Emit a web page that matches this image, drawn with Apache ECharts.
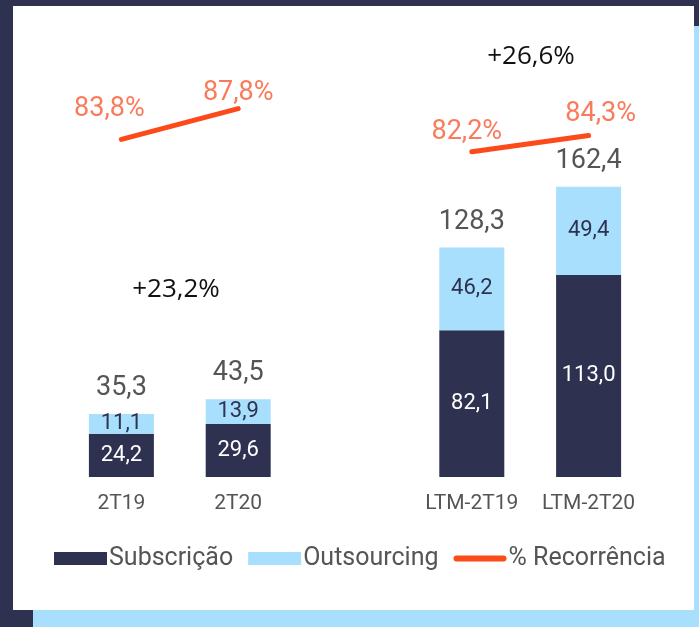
<!DOCTYPE html>
<html lang="pt">
<head>
<meta charset="UTF-8"/>
<style>
  html, body { margin: 0; padding: 0; background: #2e3150; }
  #main { width: 699px; height: 627px; }
</style>
</head>
<body>
<div id="main"></div>
<script src="https://cdn.jsdelivr.net/npm/echarts@6/dist/echarts.min.js"></script>
<script type="text/javascript">
    // dados
    var categorias = ['2T19', '2T20', '', 'LTM-2T19', 'LTM-2T20'];
    var subscricao = [24.2, 29.6, '-', 82.1, 113.0];
    var outsourcing = [11.1, 13.9, '-', 46.2, 49.4];
    var totais = [35.3, 43.5, '-', 128.3, 162.4];
    var recorrencia = [83.8, 87.8, '-', 82.2, 84.3];
    var crescimento = ['+23,2%', '+26,6%'];

    var navy = '#2e3150';
    var azul = '#a8dffc';
    var laranja = '#fc4a1a';
    var cinza = '#555555';
    var fonte = 'Roboto, sans-serif';

    function virgula(v, casas) {
        return Number(v).toFixed(casas).replace('.', ',');
    }

    // deslocamentos dos rótulos de % (só estilo)
    var offsets = [[-12, -17], [0, -2], null, [-5, -6], [12, -8]];
    var recRotulos = recorrencia.map(function (v, i) {
        if (v === '-') return '-';
        return { value: v, label: { offset: offsets[i] } };
    });

    var iconeLinha = 'path://M3,0 L50,0 A3,3 0 0 1 50,6 L3,6 A3,3 0 0 1 3,0 Z';

    var myChart = echarts.init(document.getElementById('main'));

    var options = {
        backgroundColor: navy,
        animation: false,
        textStyle: { fontFamily: fonte },
        graphic: [
            { type: 'rect', z: -10, shape: { x: 694, y: 26, width: 5, height: 601 }, style: { fill: azul } },
            { type: 'rect', z: -10, shape: { x: 33, y: 610, width: 666, height: 17 }, style: { fill: azul } },
            { type: 'rect', z: -9, shape: { x: 13, y: 6, width: 681, height: 604 }, style: { fill: '#ffffff' } },
            { type: 'text', z: 10, x: 176, y: 290, style: { text: crescimento[0], fill: '#111', font: '26px "Open Sans"', align: 'center', verticalAlign: 'middle' } },
            { type: 'text', z: 10, x: 531, y: 57, style: { text: crescimento[1], fill: '#111', font: '26px "Open Sans"', align: 'center', verticalAlign: 'middle' } }
        ],
        legend: {
            data: [
                { name: 'Subscrição', icon: 'rect' },
                { name: 'Outsourcing', icon: 'rect' },
                { name: '% Recorrência', icon: iconeLinha, itemStyle: { color: laranja } }
            ],
            left: 49,
            top: 541,
            itemWidth: 53,
            itemHeight: 13,
            itemGap: 15,
            textStyle: { fontSize: 25, color: cinza, fontFamily: fonte, padding: [0, 0, 0, -3] }
        },
        grid: { left: 63, right: 52, top: 30, bottom: 150 },
        xAxis: {
            type: 'category',
            data: categorias,
            axisLine: { show: false },
            axisTick: { show: false },
            axisLabel: { fontSize: 21, color: cinza, margin: 16, interval: 0 }
        },
        yAxis: [
            { type: 'value', min: 0, max: 250, show: false },
            { type: 'value', min: 40, max: 98, show: false }
        ],
        series: [
            {
                name: 'Total',
                type: 'bar',
                data: totais,
                barWidth: 65,
                barGap: '-100%',
                itemStyle: { color: 'rgba(0,0,0,0)' },
                z: 1,
                label: {
                    show: true, position: 'top', distance: 12,
                    fontSize: 27, color: cinza,
                    formatter: function (p) { return virgula(p.value, 1); }
                }
            },
            {
                name: 'Subscrição',
                type: 'bar',
                stack: 'receita',
                data: subscricao,
                barWidth: 65,
                itemStyle: { color: navy },
                z: 2,
                label: {
                    show: true, position: 'inside',
                    fontSize: 22, color: '#ffffff',
                    formatter: function (p) { return virgula(p.value, 1); }
                }
            },
            {
                name: 'Outsourcing',
                type: 'bar',
                stack: 'receita',
                data: outsourcing,
                barWidth: 65,
                itemStyle: { color: azul },
                z: 2,
                label: {
                    show: true, position: 'inside',
                    fontSize: 22, color: navy,
                    formatter: function (p) { return virgula(p.value, 1); }
                }
            },
            {
                name: '% Recorrência',
                type: 'line',
                yAxisIndex: 1,
                data: recorrencia,
                symbol: 'none',
                connectNulls: false,
                lineStyle: { color: laranja, width: 5, cap: 'round' },
                itemStyle: { color: laranja },
                z: 5
            },
            {
                name: 'rotulos',
                type: 'scatter',
                yAxisIndex: 1,
                data: recRotulos,
                symbolSize: 0,
                silent: true,
                z: 6,
                label: {
                    show: true, position: 'top', distance: 0,
                    fontSize: 27, color: '#f75a32',
                    formatter: function (p) { return virgula(p.value, 1) + '%'; }
                }
            }
        ]
    };

    myChart.setOption(options);
</script>
</body>
</html>
